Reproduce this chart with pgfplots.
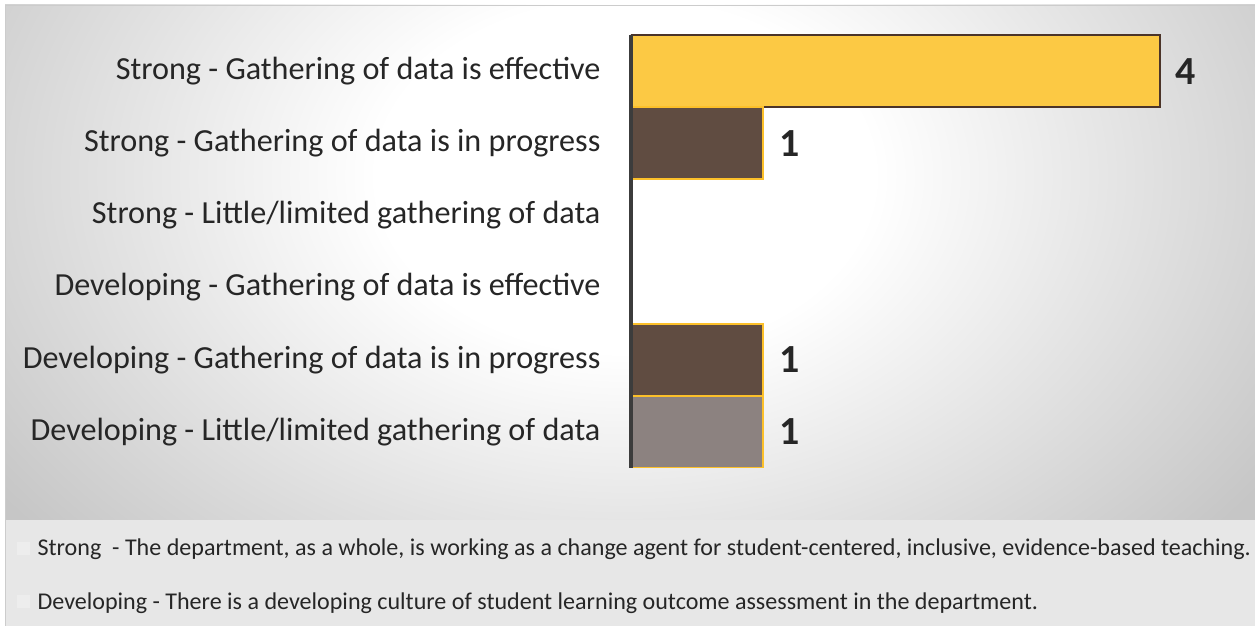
\documentclass[border=0pt]{standalone}
\usepackage{pgfplots}
\pgfplotsset{compat=1.18}
\usepackage{fontspec}
\setmainfont{Carlito}
\definecolor{barY}{HTML}{FCC944}
\definecolor{barYedge}{HTML}{4B3429}
\definecolor{barB}{HTML}{604C41}
\definecolor{barG}{HTML}{8C8280}
\definecolor{edgeY}{HTML}{FCC02A}
\definecolor{txt}{HTML}{262626}
\definecolor{axisc}{HTML}{3C3C3C}
\definecolor{legbg}{HTML}{E7E7E7}
\pgfdeclareradialshading{bgshade}{\pgfpoint{0bp}{0bp}}{color(0bp)=(white); color(8bp)=(white); color(25bp)=(gray!45); color(50bp)=(gray!45)}
\begin{document}
\begin{tikzpicture}
\useasboundingbox (0,0) rectangle (1255bp,626bp);
\fill[white] (0,0) rectangle (1255bp,626bp);
\begin{scope}
\clip (5bp,106bp) rectangle (1255bp,621bp);
\shade[shading=bgshade] (-150bp,-100bp) rectangle (1400bp,1000bp);
\end{scope}
\fill[legbg] (5bp,0bp) rectangle (1255bp,106bp);
\draw[gray!40, line width=0.8bp] (5bp,0bp) -- (5bp,621bp) -- (1255bp,621bp);
\begin{axis}[
  at={(631bp,158bp)}, anchor=south west,
  scale only axis, width=620bp, height=433bp,
  xmin=0, xmax=4.69, ymin=-0.5, ymax=5.5,
  axis x line=none, axis y line*=left,
  y axis line style={line width=3bp, draw=axisc, -},
  axis on top,
  ytick={0,1,2,3,4,5},
  yticklabels={Developing - Little/limited gathering of data,
               Developing - Gathering of data is in progress,
               Developing - Gathering of data is effective,
               Strong - Little/limited gathering of data,
               Strong - Gathering of data is in progress,
               Strong - Gathering of data is effective},
  major tick length=0pt,
  yticklabel style={font=\fontsize{32.3}{36}\selectfont, text=txt, xshift=-27bp},
  xbar, bar width=1, bar shift=0pt,
  nodes near coords,
  nodes near coords style={font=\fontsize{40}{44}\selectfont\bfseries, text=txt, anchor=west, xshift=12bp},
  /pgf/number format/assume math mode=true,
  legend style={at={(0,0)}, anchor=north west, xshift=-614bp, yshift=-69bp,
    draw=none, fill=none, font=\fontsize{24.15}{26}\selectfont, text=txt,
    row sep=31bp, inner sep=0pt, legend cell align=left,
    /tikz/every odd column/.append style={column sep=6bp}},
]
\addplot[forget plot, fill=barY, draw=barYedge, line width=1.5bp] coordinates {(4,5)};
\addplot[forget plot, fill=barB, draw=edgeY, line width=1.8bp] coordinates {(1,4) (1,1)};
\addplot[forget plot, fill=barG, draw=edgeY, line width=1.8bp] coordinates {(1,0)};
\addlegendimage{legend image code/.code={\fill[gray!14] (0bp,-6bp) rectangle (12bp,6bp);}}
\addlegendentry{Strong\ \ - The department, as a whole, is working as a change agent for student-centered, inclusive, evidence-based teaching.}
\addlegendimage{legend image code/.code={\fill[gray!14] (0bp,-6bp) rectangle (12bp,6bp);}}
\addlegendentry{Developing - There is a developing culture of student learning outcome assessment in the department.}
\end{axis}
\end{tikzpicture}
\end{document}
